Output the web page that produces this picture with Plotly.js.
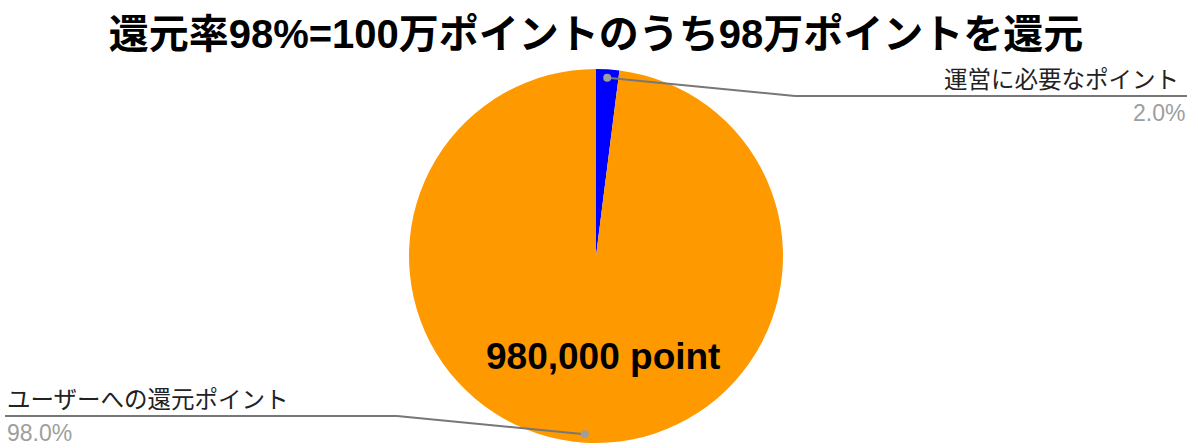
<!DOCTYPE html>
<html>
<head>
<meta charset="utf-8">
<script src="https://cdn.plot.ly/plotly-3.1.0.min.js"></script>
<style>
  html, body { margin: 0; padding: 0; background: #fff; }
  #chart { width: 1198px; height: 448px; }
</style>
</head>
<body>
<div id="chart"></div>
<script>
// data
const labels = ["運営に必要なポイント", "ユーザーへの還元ポイント"];
const points = [20000, 980000];
const sliceColors = ["#0000ff", "#ff9900"];
const titleText = "還元率98%=100万ポイントのうち98万ポイントを還元";

const W = 1198, H = 448;
const cx = 596, cy = 256, R = 187; // pie geometry in px
const px = x => x / W;
const py = y => 1 - y / H;
const FONT = "'Liberation Sans', Arial, 'Noto Sans CJK JP', sans-serif";

const total = points.reduce((a, b) => a + b, 0);
const fmt = v => (v / total * 100).toFixed(1) + "%";

// mid angle of each slice (clockwise from 12 o'clock)
let acc = 0;
const mids = points.map(v => {
    const a0 = acc / total * 360;
    acc += v;
    const a1 = acc / total * 360;
    return (a0 + a1) / 2;
});
const polar = (deg, r) => {
    const t = deg * Math.PI / 180;
    return [cx + r * Math.sin(t), cy - r * Math.cos(t)];
};

const trace = {
    type: "pie",
    values: points,
    labels: labels,
    sort: false,
    direction: "clockwise",
    rotation: 0,
    marker: { colors: sliceColors, line: { width: 0 } },
    textinfo: "none",
    hoverinfo: "label+value+percent",
    showlegend: false,
    domain: { x: [px(cx - R), px(cx + R)], y: [py(cy + R), py(cy - R)] }
};

// leader lines: dot on slice -> elbow -> horizontal run under label
const legs = [
    { elbow: [795, 96], end: 1187, side: "right" },
    { elbow: [397, 416], end: 5, side: "left" }
];

const shapes = [];
const annotations = [];
const lineCol = "#777777";
points.forEach((v, i) => {
    const [dx, dy] = polar(mids[i], R * 0.955);
    const L = legs[i];
    shapes.push({ type: "line", xref: "paper", yref: "paper",
        x0: px(dx), y0: py(dy), x1: px(L.elbow[0]), y1: py(L.elbow[1]),
        line: { color: lineCol, width: 2 } });
    shapes.push({ type: "line", xref: "paper", yref: "paper",
        x0: px(L.elbow[0]), y0: py(L.elbow[1]), x1: px(L.end), y1: py(L.elbow[1]),
        line: { color: lineCol, width: 2 } });
    shapes.push({ type: "circle", xref: "paper", yref: "paper",
        x0: px(dx - 4), x1: px(dx + 4), y0: py(dy + 4), y1: py(dy - 4),
        fillcolor: "#9e9e9e", line: { width: 0 } });
    const anchor = L.side === "right" ? "right" : "left";
    const xs = L.side === "right" ? -6 : 0;
    annotations.push({ xref: "paper", yref: "paper", x: px(L.end), y: py(L.elbow[1] - 16),
        xshift: xs, xanchor: anchor, yanchor: "middle", showarrow: false, text: labels[i],
        font: { family: FONT, size: 23.5, color: "#222222" } });
    annotations.push({ xref: "paper", yref: "paper", x: px(L.end), y: py(L.elbow[1] + 17),
        xanchor: anchor, yanchor: "middle", showarrow: false, text: fmt(v),
        font: { family: FONT, size: 23, color: "#9e9e9e" } });
});

// value label inside the big slice
const [tx, ty] = polar(mids[1], R * 0.54);
annotations.push({ xref: "paper", yref: "paper", x: px(tx), y: py(ty), xshift: 13,
    xanchor: "center", yanchor: "middle", showarrow: false,
    text: points[1].toLocaleString("en-US") + " point",
    font: { family: FONT, size: 37, color: "#000000", weight: "bold" } });

const layout = {
    width: W, height: H,
    margin: { l: 0, r: 0, t: 0, b: 0 },
    paper_bgcolor: "#ffffff",
    title: {
        text: titleText,
        x: 0.4975, xanchor: "center", xref: "paper",
        y: 1 - 34 / H, yanchor: "middle", yref: "container",
        font: { family: FONT, size: 40, color: "#000000", weight: "bold" }
    },
    shapes: shapes,
    annotations: annotations
};

Plotly.newPlot("chart", [trace], layout, { displayModeBar: false, staticPlot: true });
</script>
</body>
</html>
